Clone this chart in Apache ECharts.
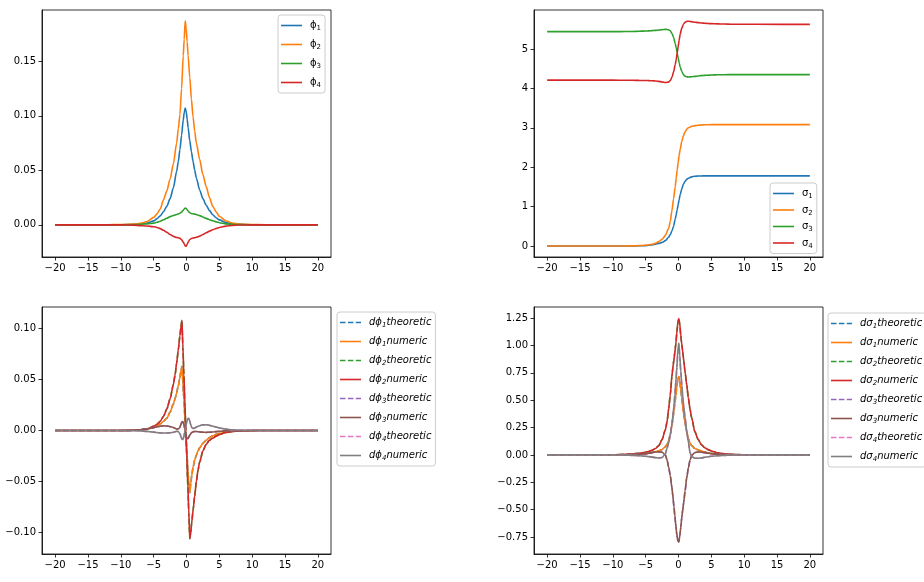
<!DOCTYPE html>
<html>
<head>
<meta charset="utf-8">
<script src="https://cdn.jsdelivr.net/npm/echarts@6/dist/echarts.min.js"></script>
<style>
html, body { margin: 0; padding: 0; background: #fff; }
#main { width: 924px; height: 582px; }
</style>
</head>
<body>
<div id="main"></div>
<script>
// x sample points (denser around the peaks)
var xFun = [-20, -12, -10, -8, -7, -6, -5,
  -4.5, -4, -3.5, -3, -2.5, -2,
  -1.5, -1.25, -1, -0.75, -0.5, -0.35, -0.2, -0.05,
  0.1, 0.25, 0.5, 0.75, 1, 1.25, 1.5,
  2, 2.5, 3, 3.5, 4, 4.5, 5,
  6, 7, 8, 10, 12, 20];

var xDer = [-20, -12, -10, -8, -7, -6, -5,
  -4.5, -4, -3.5, -3, -2.5, -2, -1.75,
  -1.5, -1.25, -1, -0.85, -0.7, -0.55, -0.4,
  -0.25, -0.1, 0.05, 0.2, 0.35, 0.5, 0.65,
  0.8, 1, 1.25, 1.5, 1.75, 2, 2.5,
  3, 3.5, 4, 4.5, 5, 6, 7,
  8, 10, 12, 20];

// top left: phi
var phi1 = [0, 0, 0.0001, 0.0003, 0.0007, 0.0016, 0.0036,
  0.0055, 0.0082, 0.012, 0.017, 0.024, 0.034,
  0.049, 0.058, 0.069, 0.082, 0.096, 0.103, 0.107, 0.104,
  0.097, 0.089, 0.077, 0.067, 0.058, 0.05, 0.043,
  0.032, 0.024, 0.018, 0.013, 0.0092, 0.0065, 0.0045,
  0.0021, 0.0009, 0.0004, 0.0001, 0, 0];
var phi2 = [0, 0.0001, 0.0002, 0.0007, 0.0014, 0.003, 0.0068,
  0.01, 0.0145, 0.023, 0.031, 0.042, 0.056,
  0.075, 0.088, 0.101, 0.125, 0.155, 0.17, 0.187, 0.18,
  0.168, 0.155, 0.135, 0.115, 0.099, 0.086, 0.075,
  0.06, 0.046, 0.035, 0.025, 0.017, 0.012, 0.0078,
  0.0035, 0.0016, 0.0007, 0.0002, 0.0001, 0];
var phi3 = [0, 0, 0, 0.0002, 0.0005, 0.0009, 0.0016,
  0.0024, 0.0033, 0.0046, 0.006, 0.0075, 0.0086,
  0.0095, 0.01, 0.0106, 0.0117, 0.0134, 0.0145, 0.0153, 0.015,
  0.0138, 0.0125, 0.0111, 0.0104, 0.0101, 0.0098, 0.0094,
  0.0084, 0.0072, 0.0059, 0.0047, 0.0037, 0.0027, 0.0019,
  0.0009, 0.0004, 0.0002, 0, 0, 0];
var phi4 = [0, 0, 0, -0.0003, -0.0007, -0.0011, -0.0017,
  -0.0025, -0.0035, -0.005, -0.0068, -0.0088, -0.0106,
  -0.0116, -0.0119, -0.0124, -0.0137, -0.0157, -0.0174, -0.0193, -0.0196,
  -0.0178, -0.0158, -0.0135, -0.0125, -0.0121, -0.0118, -0.0114,
  -0.0104, -0.0089, -0.0073, -0.0058, -0.0045, -0.0034, -0.0025,
  -0.0012, -0.0005, -0.0002, 0, 0, 0];

// top right: sigma
var sigma1 = [0, 0, 0, 0.0005, 0.0015, 0.004, 0.01,
  0.017, 0.028, 0.045, 0.065, 0.09, 0.135,
  0.22, 0.29, 0.38, 0.5, 0.68, 0.8, 0.92, 1.05,
  1.18, 1.3, 1.45, 1.57, 1.64, 1.69, 1.72,
  1.755, 1.77, 1.775, 1.778, 1.78, 1.78, 1.78,
  1.78, 1.78, 1.78, 1.78, 1.78, 1.78];
var sigma2 = [0, 0, 0, 0.001, 0.003, 0.008, 0.018,
  0.028, 0.045, 0.07, 0.11, 0.17, 0.27,
  0.45, 0.62, 0.9, 1.2, 1.5, 1.72, 1.93, 2.12,
  2.3, 2.45, 2.65, 2.8, 2.9, 2.96, 3.0,
  3.035, 3.055, 3.065, 3.072, 3.076, 3.078, 3.08,
  3.08, 3.08, 3.08, 3.08, 3.08, 3.08];
var sigma3 = [5.44, 5.44, 5.44, 5.443, 5.446, 5.45, 5.456,
  5.46, 5.466, 5.473, 5.481, 5.49, 5.498,
  5.49, 5.46, 5.4, 5.3, 5.14, 5.03, 4.9, 4.77,
  4.65, 4.55, 4.43, 4.35, 4.31, 4.295, 4.29,
  4.295, 4.305, 4.315, 4.323, 4.33, 4.335, 4.34,
  4.345, 4.348, 4.35, 4.35, 4.35, 4.35];
var sigma4 = [4.21, 4.21, 4.21, 4.207, 4.205, 4.203, 4.2,
  4.197, 4.193, 4.187, 4.178, 4.165, 4.148,
  4.16, 4.2, 4.28, 4.42, 4.6, 4.73, 4.9, 5.07,
  5.22, 5.37, 5.53, 5.63, 5.68, 5.7, 5.705,
  5.695, 5.68, 5.67, 5.66, 5.653, 5.647, 5.643,
  5.637, 5.633, 5.63, 5.628, 5.627, 5.625];

// bottom left: dphi (theoretic and numeric lie on top of each other)
var dphi1 = [0, 0, 0, 0.0002, 0.0005, 0.0012, 0.003,
  0.0045, 0.0065, 0.009, 0.012, 0.018, 0.026, 0.031,
  0.037, 0.044, 0.052, 0.058, 0.063, 0.047, 0.031,
  0.014, -0.003, -0.02, -0.037, -0.053, -0.061, -0.052,
  -0.044, -0.036, -0.029, -0.024, -0.02, -0.017, -0.0125,
  -0.0095, -0.007, -0.0052, -0.0038, -0.0028, -0.0014, -0.0006,
  -0.0003, -0.0001, 0, 0];
var dphi2 = [0, 0, 0, 0.0003, 0.0008, 0.0016, 0.004,
  0.006, 0.009, 0.014, 0.021, 0.031, 0.045, 0.054,
  0.066, 0.079, 0.093, 0.101, 0.108, 0.082, 0.055,
  0.028, 0, -0.027, -0.054, -0.08, -0.106, -0.1,
  -0.09, -0.078, -0.064, -0.05, -0.039, -0.031, -0.02,
  -0.0135, -0.0095, -0.0075, -0.0055, -0.004, -0.002, -0.0009,
  -0.0004, -0.0001, 0, 0];
var dphi3 = [0, 0, 0, 0.0003, 0.0007, 0.0015, 0.0028,
  0.0036, 0.0042, 0.0045, 0.0044, 0.0038, 0.003, 0.0022,
  0.0015, 0.0015, 0.003, 0.006, 0.0085, 0.0088, 0.006,
  0.001, -0.004, -0.0075, -0.008, -0.0065, -0.0045, -0.003,
  -0.002, -0.0012, -0.001, -0.001, -0.0012, -0.0014, -0.0017,
  -0.0018, -0.0017, -0.0014, -0.0011, -0.0008, -0.0004, -0.0002,
  -0.0001, 0, 0, 0];
var dphi4 = [0, 0, 0, -0.0002, -0.0004, -0.0009, -0.0016,
  -0.002, -0.0023, -0.0025, -0.0025, -0.0022, -0.0018, -0.0012,
  -0.0008, -0.001, -0.003, -0.006, -0.0085, -0.009, -0.006,
  -0.001, 0.004, 0.009, 0.0115, 0.012, 0.009, 0.0055,
  0.003, 0.002, 0.0025, 0.0033, 0.004, 0.0047, 0.0055,
  0.0056, 0.005, 0.0042, 0.0034, 0.0026, 0.0013, 0.0006,
  0.0003, 0.0001, 0, 0];

// bottom right: dsigma
var dsigma1 = [0, 0, 0.0005, 0.0015, 0.003, 0.006, 0.012,
  0.016, 0.022, 0.03, 0.037, 0.05, 0.075, 0.095,
  0.13, 0.19, 0.27, 0.33, 0.4, 0.47, 0.55,
  0.63, 0.69, 0.715, 0.67, 0.6, 0.52, 0.44,
  0.37, 0.29, 0.21, 0.15, 0.11, 0.085, 0.058,
  0.045, 0.035, 0.026, 0.019, 0.013, 0.006, 0.003,
  0.0015, 0.0005, 0, 0];
var dsigma2 = [0, 0.0005, 0.0015, 0.005, 0.009, 0.015, 0.024,
  0.032, 0.043, 0.058, 0.085, 0.14, 0.23, 0.3,
  0.42, 0.55, 0.72, 0.8, 0.87, 0.94, 1.02,
  1.12, 1.21, 1.245, 1.19, 1.09, 1.01, 0.94,
  0.86, 0.76, 0.64, 0.52, 0.42, 0.34, 0.21,
  0.14, 0.092, 0.065, 0.048, 0.036, 0.019, 0.01,
  0.005, 0.0015, 0.0005, 0];
var dsigma3 = [0, 0, 0.0005, 0.002, 0.004, 0.007, 0.012,
  0.016, 0.021, 0.026, 0.028, 0.025, 0, -0.045,
  -0.11, -0.19, -0.3, -0.38, -0.47, -0.56, -0.65,
  -0.73, -0.785, -0.795, -0.74, -0.66, -0.57, -0.5,
  -0.43, -0.33, -0.21, -0.12, -0.05, -0.005, 0.022,
  0.027, 0.025, 0.021, 0.016, 0.012, 0.007, 0.004,
  0.002, 0.0005, 0, 0];
var dsigma4 = [0, 0, -0.0005, -0.002, -0.004, -0.007, -0.012,
  -0.016, -0.02, -0.025, -0.028, -0.024, 0.01, 0.06,
  0.11, 0.18, 0.28, 0.36, 0.44, 0.55, 0.67,
  0.8, 0.95, 1.02, 0.9, 0.76, 0.64, 0.53,
  0.44, 0.34, 0.22, 0.12, 0.02, -0.015, -0.03,
  -0.03, -0.027, -0.022, -0.017, -0.012, -0.007, -0.004,
  -0.002, -0.0005, 0, 0];

// ticks
var xTicks = [-20, -15, -10, -5, 0, 5, 10, 15, 20];
var xLabels = ['\u221220', '\u221215', '\u221210', '\u22125', '0', '5', '10', '15', '20'];
var y1Ticks = [0, 0.05, 0.1, 0.15];
var y1Labels = ['0.00', '0.05', '0.10', '0.15'];
var y2Ticks = [0, 1, 2, 3, 4, 5];
var y2Labels = ['0', '1', '2', '3', '4', '5'];
var y3Ticks = [-0.1, -0.05, 0, 0.05, 0.1];
var y3Labels = ['\u22120.10', '\u22120.05', '0.00', '0.05', '0.10'];
var y4Ticks = [-0.75, -0.5, -0.25, 0, 0.25, 0.5, 0.75, 1, 1.25];
var y4Labels = ['\u22120.75', '\u22120.50', '\u22120.25', '0.00', '0.25', '0.50', '0.75', '1.00', '1.25'];

var C = ['#1f77b4', '#ff7f0e', '#2ca02c', '#d62728', '#9467bd', '#8c564b', '#e377c2', '#7f7f7f'];
var FONT = 'DejaVu Sans';
// legend handles: a solid bar or three dashes
var SOLID_ICON = 'path://M0,0H21V1.6H0Z';
var DASH_ICON = 'path://M0,0H5.5V1.6H0Z M7.9,0H13.4V1.6H7.9Z M15.8,0H21V1.6H15.8Z';
var SUBS = { '\u2081': '1', '\u2082': '2', '\u2083': '3', '\u2084': '4' };

function zip(xs, ys) {
  var out = [];
  for (var i = 0; i < xs.length; i++) out.push([xs[i], ys[i]]);
  return out;
}

function labelOf(ticks, labels) {
  return function (v) {
    for (var i = 0; i < ticks.length; i++) {
      if (Math.abs(v - ticks[i]) < 1e-9) return labels[i];
    }
    return '';
  };
}

// "dϕ₁theoretic" -> rich text with a real lowered subscript
function richName(name) {
  var out = '', buf = '';
  for (var i = 0; i < name.length; i++) {
    var ch = name.charAt(i);
    if (SUBS[ch]) {
      if (buf) out += '{m|' + buf + '}';
      buf = '';
      out += '{s|' + SUBS[ch] + '}';
    } else {
      buf += ch;
    }
  }
  if (buf) out += '{m|' + buf + '}';
  return out;
}

function line(name, xs, ys, color, idx, dashed) {
  return {
    name: name, type: 'line', xAxisIndex: idx, yAxisIndex: idx,
    data: zip(xs, ys),
    showSymbol: false, symbol: 'none',
    smooth: 0.25, smoothMonotone: 'x',
    lineStyle: { color: color, width: 1.6, type: dashed ? [5.5, 2.4] : 'solid' },
    itemStyle: { color: color },
    emphasis: { disabled: true },
    animation: false
  };
}

function xAxisCfg(idx) {
  return {
    type: 'value', gridIndex: idx, min: -22, max: 22,
    splitLine: { show: false },
    axisLine: { show: true, onZero: false, lineStyle: { color: '#000', width: 0.8 } },
    axisTick: { show: true, length: 3.5, lineStyle: { color: '#000', width: 0.8 }, customValues: xTicks },
    axisLabel: { customValues: xTicks, formatter: labelOf(xTicks, xLabels), margin: 6,
      color: '#000', fontFamily: FONT, fontSize: 10 }
  };
}

function yAxisCfg(idx, min, max, ticks, labels) {
  return {
    type: 'value', gridIndex: idx, min: min, max: max,
    splitLine: { show: false },
    axisLine: { show: true, onZero: false, lineStyle: { color: '#000', width: 0.8 } },
    axisTick: { show: true, length: 3.5, lineStyle: { color: '#000', width: 0.8 }, customValues: ticks },
    axisLabel: { customValues: ticks, formatter: labelOf(ticks, labels), margin: 6,
      color: '#000', fontFamily: FONT, fontSize: 10 }
  };
}

function legendCfg(names, dashed, left, top, gap, italic) {
  var items = names.map(function (n, k) {
    return { name: n, icon: dashed[k] ? DASH_ICON : SOLID_ICON };
  });
  var st = italic ? 'italic' : 'normal';
  return {
    data: items, orient: 'vertical', left: left, top: top,
    itemWidth: 21, itemHeight: 1.6, itemGap: gap,
    padding: [4, 4, 4, 3],
    borderColor: '#cccccc', borderWidth: 1, borderRadius: 3,
    backgroundColor: 'rgba(255,255,255,0.8)',
    selectedMode: false,
    formatter: richName,
    textStyle: {
      fontFamily: FONT, fontSize: 10, color: '#000', lineHeight: 13, padding: [0, 0, 0, 3],
      rich: {
        m: { fontFamily: FONT, fontSize: 10, color: '#000', fontStyle: st, lineHeight: 13 },
        s: { fontFamily: FONT, fontSize: 7, color: '#000', fontStyle: st, lineHeight: 7, verticalAlign: 'bottom' }
      }
    }
  };
}

var phiNames = ['\u03d5\u2081', '\u03d5\u2082', '\u03d5\u2083', '\u03d5\u2084'];
var sigmaNames = ['\u03c3\u2081', '\u03c3\u2082', '\u03c3\u2083', '\u03c3\u2084'];
var dphiNames = ['d\u03d5\u2081theoretic', 'd\u03d5\u2081numeric', 'd\u03d5\u2082theoretic', 'd\u03d5\u2082numeric',
  'd\u03d5\u2083theoretic', 'd\u03d5\u2083numeric', 'd\u03d5\u2084theoretic', 'd\u03d5\u2084numeric'];
var dsigmaNames = ['d\u03c3\u2081theoretic', 'd\u03c3\u2081numeric', 'd\u03c3\u2082theoretic', 'd\u03c3\u2082numeric',
  'd\u03c3\u2083theoretic', 'd\u03c3\u2083numeric', 'd\u03c3\u2084theoretic', 'd\u03c3\u2084numeric'];
var allSolid = [false, false, false, false];
var pairDashed = [true, false, true, false, true, false, true, false];

var phiData = [phi1, phi2, phi3, phi4];
var sigmaData = [sigma1, sigma2, sigma3, sigma4];
var dphiData = [dphi1, dphi2, dphi3, dphi4];
var dsigmaData = [dsigma1, dsigma2, dsigma3, dsigma4];

var series = [];
for (var i = 0; i < 4; i++) {
  series.push(line(phiNames[i], xFun, phiData[i], C[i], 0, false));
}
for (var i = 0; i < 4; i++) {
  series.push(line(sigmaNames[i], xFun, sigmaData[i], C[i], 1, false));
}
for (var i = 0; i < 4; i++) {
  series.push(line(dphiNames[2 * i], xDer, dphiData[i], C[2 * i], 2, true));
  series.push(line(dphiNames[2 * i + 1], xDer, dphiData[i], C[2 * i + 1], 2, false));
}
for (var i = 0; i < 4; i++) {
  series.push(line(dsigmaNames[2 * i], xDer, dsigmaData[i], C[2 * i], 3, true));
  series.push(line(dsigmaNames[2 * i + 1], xDer, dsigmaData[i], C[2 * i + 1], 3, false));
}

var gridBase = { show: true, borderColor: '#000', borderWidth: 0.8, backgroundColor: '#fff', containLabel: false };

var myChart = echarts.init(document.getElementById('main'), null, { renderer: 'canvas' });
var option = {
  backgroundColor: '#fff',
  animation: false,
  grid: [
    Object.assign({ left: 42, top: 10, width: 289, height: 247 }, gridBase),
    Object.assign({ left: 534, top: 10, width: 289, height: 247 }, gridBase),
    Object.assign({ left: 42, top: 307, width: 289, height: 247 }, gridBase),
    Object.assign({ left: 534, top: 307, width: 289, height: 247 }, gridBase)
  ],
  xAxis: [xAxisCfg(0), xAxisCfg(1), xAxisCfg(2), xAxisCfg(3)],
  yAxis: [
    yAxisCfg(0, -0.0295, 0.197, y1Ticks, y1Labels),
    yAxisCfg(1, -0.28, 5.99, y2Ticks, y2Labels),
    yAxisCfg(2, -0.121, 0.121, y3Ticks, y3Labels),
    yAxisCfg(3, -0.905, 1.351, y4Ticks, y4Labels)
  ],
  legend: [
    legendCfg(phiNames, allSolid, 278, 15, 6, false),
    legendCfg(sigmaNames, allSolid, 770, 183, 3.5, false),
    legendCfg(dphiNames, pairDashed, 337, 312, 6, true),
    legendCfg(dsigmaNames, pairDashed, 828, 313, 6, true)
  ],
  series: series
};
myChart.setOption(option);
</script>
</body>
</html>
